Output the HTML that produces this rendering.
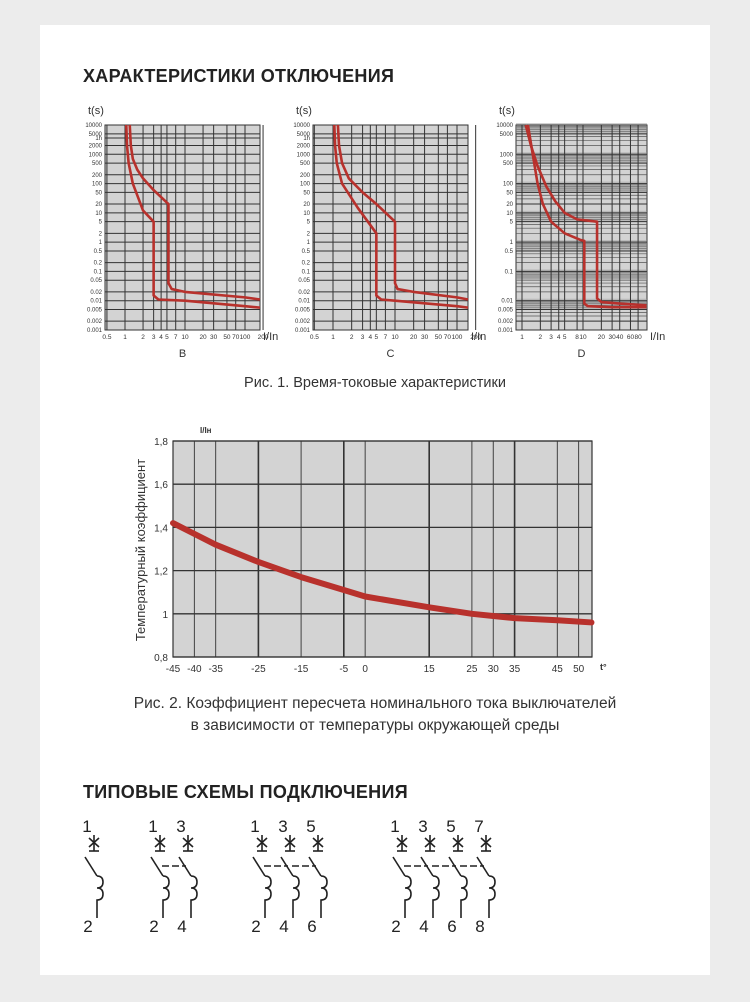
<!DOCTYPE html>
<html><head><meta charset="utf-8">
<style>
body{margin:0;background:#ececec;width:750px;height:1002px;overflow:hidden;font-family:"Liberation Sans",sans-serif}
#card{position:absolute;left:40px;top:25px;width:670px;height:950px;background:#fff}
.h{position:absolute;font-weight:bold;font-size:18px;color:#222;letter-spacing:0.3px;transform:scaleX(1.0);transform-origin:left}
.cap{position:absolute;font-size:14.5px;color:#333;text-align:center;width:750px;left:0}
svg{position:absolute;left:0;top:0}
</style></head><body>
<div id="card"></div>
<div class="h" style="left:83px;top:66px">ХАРАКТЕРИСТИКИ ОТКЛЮЧЕНИЯ</div>
<div class="cap" style="top:375px">Рис. 1. Время-токовые характеристики</div>
<div class="cap" style="top:693px;line-height:22px;font-size:15.5px">Рис. 2. Коэффициент пересчета номинального тока выключателей<br>в зависимости от температуры окружающей среды</div>
<div class="h" style="left:83px;top:782px">ТИПОВЫЕ СХЕМЫ ПОДКЛЮЧЕНИЯ</div>
<svg id="s" width="750" height="1002" xmlns="http://www.w3.org/2000/svg"></svg>
<script>
// ---- time-current chart data ----
const yTicksBC = [10000,5000,3600,2000,1000,500,200,100,50,20,10,5,2,1,0.5,0.2,0.1,0.05,0.02,0.01,0.005,0.002,0.001];
const yLabelsBC = ["10000","5000","1h","2000","1000","500","200","100","50","20","10","5","2","1","0.5","0.2","0.1","0.05","0.02","0.01","0.005","0.002","0.001"];
const xTicksBC = [0.5,1,2,3,4,5,7,10,20,30,50,70,100,200];
const yTicksD = [10000,5000,1000,500,100,50,20,10,5,1,0.5,0.1,0.01,0.005,0.002,0.001];
const xTicksD = [1,2,3,4,5,8,10,20,30,40,60,80];
const bUpperX=[1.2,1.25,1.35,1.6,2,3,5.3,5.3,6,10,100,230];
const bUpperY=[10000,2000,700,300,150,60,20,0.04,0.025,0.02,0.013,0.011];
const bLowerX=[1.05,1.08,1.15,1.35,2,3,3,3.6,10,100,230];
const bLowerY=[10000,2000,500,100,12,5,0.015,0.011,0.01,0.0065,0.0058];
const cUpperX=[1.2,1.25,1.4,1.8,3,5,10,10,11,20,100,230];
const cUpperY=[10000,2000,500,150,50,20,5,0.04,0.025,0.02,0.013,0.011];
const cLowerX=[1.05,1.08,1.15,1.4,2.5,5,5,6,10,100,230];
const cLowerY=[10000,2000,500,100,15,2,0.015,0.011,0.01,0.0065,0.0058];
const dUpperX=[1.15,1.4,1.8,2.5,3.5,5,8,17,17,20,40,110];
const dUpperY=[10000,2000,400,80,25,10,6,5,0.012,0.009,0.008,0.007];
const dLowerX=[1.25,1.5,1.8,2.2,3,5,9,10.5,10.5,12,30,110];
const dLowerY=[10000,1000,100,20,5,2,1.2,1.1,0.008,0.0065,0.006,0.006];
// ---- temperature chart data ----
const tempTicks=[-45,-40,-35,-25,-15,-5,0,15,25,30,35,45,50];
const kTicks=[0.8,1,1.2,1.4,1.6,1.8];
const kTickLabels=["0,8","1","1,2","1,4","1,6","1,8"];
const curveT=[-45,-40,-35,-25,-15,-5,0,15,25,30,35,45,53];
const curveK=[1.42,1.37,1.32,1.24,1.17,1.11,1.08,1.03,1.0,0.99,0.98,0.97,0.96];

const S=document.getElementById('s');const NS='http://www.w3.org/2000/svg';
function mk(t,a,p){const e=document.createElementNS(NS,t);for(const k in a)e.setAttribute(k,a[k]);(p||S).appendChild(e);return e;}
function txt(x,y,s,sz,anc,p){const e=mk('text',{x:x,y:y,'font-size':sz,'text-anchor':anc||'start',fill:'#333','font-family':'Liberation Sans, sans-serif'},p);e.textContent=s;return e;}

const Y0=125,Y1=330,DEC=(Y1-Y0)/7;
function ly(v){return Y0+(4-Math.log10(v))*DEC;}
function tc(name,px0,px1,x1pos,pxdec,yt,yl,xt,up,upY,lo,loY,letter,dense){
  const g=mk('g',{});
  
  
  const lx=v=>x1pos+Math.log10(v)*pxdec;
  mk('rect',{x:px0,y:Y0,width:px1-px0,height:Y1-Y0,fill:'#d3d3d3',stroke:'#333','stroke-width':1},g);
  if(dense){
    for(let d=-3;d<4;d++)for(let m=1;m<10;m++){const v=m*Math.pow(10,d);mk('line',{x1:px0,x2:px1,y1:ly(v),y2:ly(v),stroke:'#555','stroke-width':0.7},g);}
    [10000,1000,100,10,1,0.1,0.01].forEach(v=>mk('rect',{x:px0,y:ly(v)-2,width:px1-px0,height:11,fill:'#999',opacity:0.45},g));
  }
  yt.forEach((v,i)=>{mk('line',{x1:px0,x2:px1,y1:ly(v),y2:ly(v),stroke:'#333','stroke-width':1},g);
    txt(px0-3,ly(v)+2,yl[i],6,'end',g);});
  xt.forEach(v=>{mk('line',{x1:lx(v),x2:lx(v),y1:Y0,y2:Y1,stroke:'#333','stroke-width':1},g);
    txt(lx(v),Y1+9,String(v),6.5,'middle',g);});
  txt(px1+3,Y1+10,'I/In',11,'start',g);
  txt(px0-17,114,'t(s)',11,'start',g);
  txt((px0+px1)/2,Y1+27,letter,11,'middle',g);
  [[up,upY,'upper'],[lo,loY,'lower']].forEach(([xs,ys,nm])=>{
    const p=mk('polyline',{points:xs.map((x,i)=>Math.min(px1,lx(x))+','+ly(ys[i])).join(' '),fill:'none',stroke:'#b8312c','stroke-width':2.6,'stroke-linejoin':'round'},g);
    
    
  });
}
tc('b',105,260,125,60,yTicksBC,yLabelsBC,xTicksBC,bUpperX,bUpperY,bLowerX,bLowerY,'B',false);
tc('c',313,468,333,62,yTicksBC,yLabelsBC,xTicksBC,cUpperX,cUpperY,cLowerX,cLowerY,'C',false);
tc('d',516,647,522,61,yTicksD,yTicksD.map(String),xTicksD,dUpperX,dUpperY,dLowerX,dLowerY,'D',true);

// temperature chart
(function(){
  const g=mk('g',{});
  
  
  const X0=173,X1=592,T0=441,B0=657;
  const tx=t=>X0+(t+45)*4.27, ky=k=>B0-(k-0.8)*(B0-T0);
  mk('rect',{x:X0,y:T0,width:X1-X0,height:B0-T0,fill:'#d3d3d3',stroke:'#333','stroke-width':1.2},g);
  tempTicks.forEach(t=>{mk('line',{x1:tx(t),x2:tx(t),y1:T0,y2:B0,stroke:'#333','stroke-width':[-25,-5,15,35].includes(t)?1.6:0.9},g);
    txt(tx(t),B0+15,String(t),10,'middle',g);});
  kTicks.forEach((k,i)=>{mk('line',{x1:X0,x2:X1,y1:ky(k),y2:ky(k),stroke:'#333','stroke-width':1.3},g);
    txt(X0-5,ky(k)+4,kTickLabels[i],10,'end',g);});
  txt(200,433,'I/Iн',8,'start',g).setAttribute('font-weight','bold');
  txt(600,670,'t°',9,'start',g).setAttribute('font-weight','bold');
  const yt=txt(0,0,'Температурный коэффициент',13,'middle',g);yt.setAttribute('transform','translate(145,550) rotate(-90)');
  
  let d='M'+tx(curveT[0])+','+ky(curveK[0]);
  for(let i=1;i<curveT.length;i++)d+=' L'+tx(curveT[i])+','+ky(curveK[i]);
  const p=mk('path',{d:d,fill:'none',stroke:'#b8312c','stroke-width':6,'stroke-linejoin':'round','stroke-linecap':'round'},g);
  
  
})();

// wiring diagrams
const groups=[[94],[160,188],[262,290,318],[402,430,458,486]];
const topNums=[[1],[1,3],[1,3,5],[1,3,5,7]];
const botNums=[[2],[2,4],[2,4,6],[2,4,6,8]];
groups.forEach((gr,gi)=>{
  const g=mk('g',{stroke:'#222','stroke-width':1.6,fill:'none'});
  
  
  gr.forEach((cx,i)=>{
    mk('line',{x1:cx,y1:835,x2:cx,y2:851},g);
    mk('line',{x1:cx-5,y1:838,x2:cx+5,y2:847},g);
    mk('line',{x1:cx+5,y1:838,x2:cx-5,y2:847},g);
    mk('line',{x1:cx-5,y1:851,x2:cx+5,y2:851},g);
    mk('line',{x1:cx-9,y1:857,x2:cx+3,y2:876},g);
    mk('path',{d:`M${cx+3},876 q6,0 6,6 q0,6 -6,6 q6,0 6,6 q0,6 -6,6 L${cx+3},918`},g);
    if(i>0)mk('line',{x1:gr[i-1]+2,y1:866,x2:cx-2,y2:866,'stroke-dasharray':'7,3'},g);
    const a=txt(cx-7,832,String(topNums[gi][i]),17,'middle',g);a.setAttribute('stroke','none');a.setAttribute('fill','#222');
    const b=txt(cx-6,932,String(botNums[gi][i]),17,'middle',g);b.setAttribute('stroke','none');b.setAttribute('fill','#222');
  });
});
</script>
</body></html>
